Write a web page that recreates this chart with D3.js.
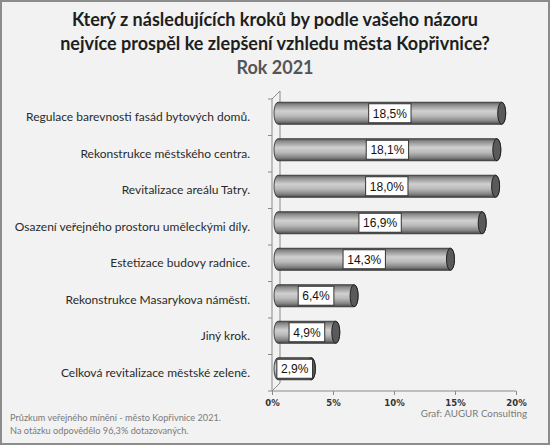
<!DOCTYPE html>
<html>
<head>
<meta charset="utf-8">
<script src="https://cdn.jsdelivr.net/npm/d3@7"></script>
<style>
  body { margin: 0; background: #fff; }
  svg { display: block; }
</style>
</head>
<body>
<div id="chart"></div>
<script>
const categories = [
    "Regulace barevnosti fasád bytových domů.",
    "Rekonstrukce městského centra.",
    "Revitalizace areálu Tatry.",
    "Osazení veřejného prostoru uměleckými díly.",
    "Estetizace budovy radnice.",
    "Rekonstrukce Masarykova náměstí.",
    "Jiný krok.",
    "Celková revitalizace městské zeleně."
];
const values = [18.5, 18.1, 18.0, 16.9, 14.3, 6.4, 4.9, 2.9];
const tickValues = [0, 5, 10, 15, 20];
const titleLines = [
    "Který z následujících kroků by podle vašeho názoru",
    "nejvíce prospěl ke zlepšení vzhledu města Kopřivnice?"
];
const subtitle = "Rok 2021";
const footerLeft = [
    "Průzkum veřejného mínění - město Kopřivnice 2021.",
    "Na otázku odpovědělo 96,3% dotazovaných."
];
const footerRight = "Graf: AUGUR Consulting";

var width = 550, height = 445;
var plot = { left: 272, right: 516, top: 99, bottom: 391 };
var depth = 8;      // 3d wall offset
var barR = 11;      // cylinder radius
var capRx = 4;

var svg = d3.select("#chart").append("svg")
    .attr("width", width)
    .attr("height", height);

svg.append("rect")
    .attr("x", 1).attr("y", 1)
    .attr("width", width - 2).attr("height", height - 2)
    .attr("fill", "#f2f2f2")
    .attr("stroke", "#8c8c8c")
    .attr("stroke-width", 2);

// gradient for cylinders
var defs = svg.append("defs");
var grad = defs.append("linearGradient")
    .attr("id", "cyl")
    .attr("x1", 0).attr("y1", 0).attr("x2", 0).attr("y2", 1);
[[0, "#5a5a5a"], [0.12, "#8c8c8c"], [0.4, "#d0d0d0"], [0.62, "#bababa"], [0.85, "#858585"], [1, "#474747"]]
    .forEach(function (s) {
        grad.append("stop").attr("offset", s[0]).attr("stop-color", s[1]);
    });

// titles
var title = svg.append("g").attr("font-family", "Lato, 'Open Sans', sans-serif")
    .attr("text-anchor", "middle");
title.selectAll("text.t")
    .data(titleLines)
    .enter()
    .append("text")
    .attr("class", "t")
    .attr("x", 275)
    .attr("y", function (d, i) { return 26 + i * 24; })
    .attr("font-size", 18)
    .attr("font-weight", "bold")
    .attr("fill", "#1e1e1e")
    .text(function (d) { return d; });
title.append("text")
    .attr("x", 275).attr("y", 74)
    .attr("font-size", 18)
    .attr("font-weight", "bold")
    .attr("fill", "#555")
    .text(subtitle);

var x = d3.scaleLinear().domain([0, 20]).range([plot.left, plot.right]);
var y = d3.scaleBand().domain(categories).range([plot.top, plot.bottom]);

// 3d wall and floor
var frame = svg.append("g").attr("stroke", "#8a8a8a").attr("fill", "none").attr("stroke-width", 1);
frame.append("path")
    .attr("d", "M" + plot.left + "," + plot.bottom + "V" + plot.top +
        "L" + (plot.left + depth) + "," + (plot.top - depth) +
        "V" + (plot.bottom - depth) + "L" + plot.left + "," + plot.bottom);
frame.append("line")
    .attr("x1", plot.left).attr("x2", plot.right)
    .attr("y1", plot.bottom).attr("y2", plot.bottom);

// category ticks on the wall
frame.selectAll("line.ct")
    .data(categories.concat([null]))
    .enter()
    .append("line")
    .attr("x1", plot.left - 4).attr("x2", plot.left)
    .attr("y1", function (d) { return d === null ? plot.bottom : y(d); })
    .attr("y2", function (d) { return d === null ? plot.bottom : y(d); });

// value axis
var axis = svg.append("g")
    .attr("transform", "translate(0," + plot.bottom + ")")
    .call(d3.axisBottom(x).tickValues(tickValues).tickSize(4).tickFormat(function (d) { return d + "%"; }));
axis.select(".domain").remove();
axis.selectAll("line").attr("stroke", "#8a8a8a");
axis.selectAll("text")
    .attr("font-family", "'DejaVu Sans', Verdana, sans-serif")
    .attr("font-size", 8.5)
    .attr("font-weight", "bold")
    .attr("fill", "#333")
    .attr("y", 15)
    .attr("dy", null);

// category labels
svg.append("g").selectAll("text")
    .data(categories)
    .enter()
    .append("text")
    .attr("x", 250)
    .attr("y", function (d) { return y(d) + y.bandwidth() / 2 + 4; })
    .attr("text-anchor", "end")
    .attr("font-family", "Lato, 'Open Sans', sans-serif")
    .attr("font-size", 12)
    .attr("fill", "#2a2a2a")
    .text(function (d) { return d; });

// cylinders
var bars = svg.append("g").selectAll("g")
    .data(values)
    .enter()
    .append("g");

function cy(i) { return y(categories[i]) + y.bandwidth() / 2 - depth / 2; }
function x0() { return x(0) + depth / 2 + 2; }
function x1(d) { return x(d) + depth / 2; }

bars.append("path")
    .attr("d", function (d, i) {
        var c = cy(i), a = x0(), b = x1(d);
        return "M" + a + "," + (c - barR) + "L" + b + "," + (c - barR) +
            "A" + capRx + "," + barR + " 0 0 1 " + b + "," + (c + barR) +
            "L" + a + "," + (c + barR) +
            "A" + capRx + "," + barR + " 0 0 1 " + a + "," + (c - barR) + "Z";
    })
    .attr("fill", "url(#cyl)")
    .attr("stroke", "#333")
    .attr("stroke-width", 0.9);

bars.append("ellipse")
    .attr("cx", function (d) { return x1(d); })
    .attr("cy", function (d, i) { return cy(i); })
    .attr("rx", capRx)
    .attr("ry", barR)
    .attr("fill", "#5a5a5a")
    .attr("stroke", "#222")
    .attr("stroke-width", 1);

// value labels
var fmt = function (d) { return d3.format(".1f")(d).replace(".", ",") + "%"; };
bars.each(function (d, i) {
    var g = d3.select(this);
    var cx = (x0() + x1(d)) / 2;
    var c = cy(i);
    var txt = g.append("text")
        .attr("x", cx)
        .attr("y", c + 4.5)
        .attr("text-anchor", "middle")
        .attr("font-family", "'Liberation Sans', Arial, sans-serif")
        .attr("font-size", 12)
        .attr("fill", "#111")
        .text(fmt(d));
    var w = txt.node().getBBox().width + 8;
    g.insert("rect", "text")
        .attr("x", cx - w / 2)
        .attr("y", c - 9.5)
        .attr("width", w)
        .attr("height", 19)
        .attr("fill", "#fff")
        .attr("stroke", "#333")
        .attr("stroke-width", 1);
});

// footer
var foot = svg.append("g")
    .attr("font-family", "Lato, 'Open Sans', sans-serif")
    .attr("fill", "#7a7a7a");
foot.selectAll("text.fl")
    .data(footerLeft)
    .enter()
    .append("text")
    .attr("class", "fl")
    .attr("x", 10)
    .attr("y", function (d, i) { return 421 + i * 13; })
    .attr("font-size", 9.2)
    .text(function (d) { return d; });
foot.append("text")
    .attr("x", 527).attr("y", 417)
    .attr("text-anchor", "end")
    .attr("font-size", 9.8)
    .text(footerRight);
</script>
</body>
</html>
